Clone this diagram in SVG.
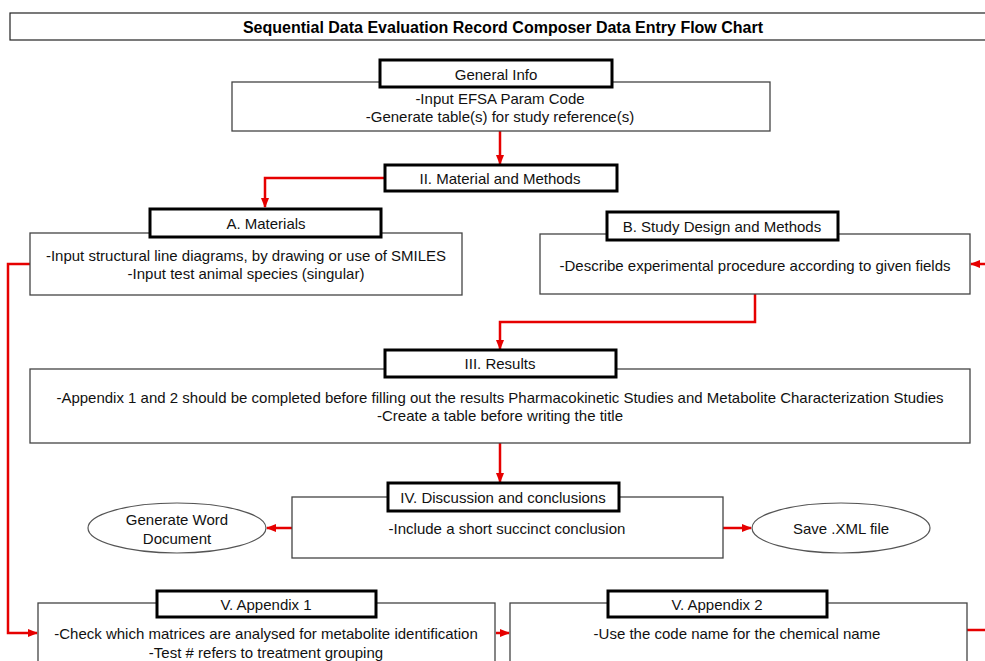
<svg xmlns="http://www.w3.org/2000/svg" width="985" height="661" viewBox="0 0 985 661">
<defs>
<marker id="ah" viewBox="0 0 10 10" refX="9" refY="5" markerWidth="4.2" markerHeight="4.2" orient="auto" markerUnits="strokeWidth">
<path d="M0,1 L10,5 L0,9 z" fill="#e60000"/>
</marker>
<style>
.body{fill:#fff;stroke:#444;stroke-width:1.3}
.head{fill:#fff;stroke:#000;stroke-width:3}
.ell{fill:#fff;stroke:#555;stroke-width:1.2}
.t{font-family:"Liberation Sans",Arial,sans-serif;font-size:15px;fill:#111;text-anchor:middle;dominant-baseline:central}
.title{font-family:"Liberation Sans",Arial,sans-serif;font-size:16px;font-weight:bold;fill:#000;text-anchor:middle;dominant-baseline:central}
.c{fill:none;stroke:#e60000;stroke-width:2.5;marker-end:url(#ah)}
.cn{fill:none;stroke:#e60000;stroke-width:2.5}
</style>
</defs>
<rect width="985" height="661" fill="#fff"/>
<g id="title">
<rect x="10" y="13" width="990" height="27" fill="#fff" stroke="#222" stroke-width="1.2"/>
<text class="title" x="503" y="27">Sequential Data Evaluation Record Composer Data Entry Flow Chart</text>
</g>
<g id="connectors">
<path class="c" d="M500,131 V164"/>
<path class="c" d="M385,178 H265 V207"/>
<path class="c" d="M30,264 H8 V633 H37"/>
<path class="c" d="M985,264 H971"/>
<path class="c" d="M755,294 V322 H500 V349"/>
<path class="c" d="M500,443 V482"/>
<path class="c" d="M292,528 H267"/>
<path class="c" d="M723,528 H751"/>
<path class="c" d="M496,633 H509"/>
<path class="cn" d="M967,630 H985"/>
</g>
<g id="general-info">
<rect class="body" x="232" y="82" width="538" height="49"/>
<rect class="head" x="380" y="60" width="232" height="27"/>
<text class="t" x="496" y="74">General Info</text>
<text class="t" x="500" y="98">-Input EFSA Param Code</text>
<text class="t" x="500" y="116">-Generate table(s) for study reference(s)</text>
</g>
<g id="material-methods">
<rect class="head" x="385" y="165" width="232" height="26"/>
<text class="t" x="500" y="178">II. Material and Methods</text>
</g>
<g id="materials">
<rect class="body" x="30" y="233" width="432" height="62"/>
<rect class="head" x="150" y="209" width="231" height="28"/>
<text class="t" x="266" y="223">A. Materials</text>
<text class="t" x="246" y="255">-Input structural line diagrams, by drawing or use of SMILES</text>
<text class="t" x="246" y="273">-Input test animal species (singular)</text>
</g>
<g id="study-design">
<rect class="body" x="540" y="234" width="430" height="60"/>
<rect class="head" x="607" y="212" width="231" height="28"/>
<text class="t" x="722" y="226">B. Study Design and Methods</text>
<text class="t" x="755" y="265">-Describe experimental procedure according to given fields</text>
</g>
<g id="results">
<rect class="body" x="30" y="369" width="940" height="74"/>
<rect class="head" x="385" y="350" width="231" height="27"/>
<text class="t" x="500" y="363">III. Results</text>
<text class="t" x="500" y="397">-Appendix 1 and 2 should be completed before filling out the results Pharmacokinetic Studies and Metabolite Characterization Studies</text>
<text class="t" x="500" y="415">-Create a table before writing the title</text>
</g>
<g id="discussion">
<rect class="body" x="292" y="497" width="431" height="61"/>
<rect class="head" x="388" y="483" width="231" height="28"/>
<text class="t" x="503" y="497">IV. Discussion and conclusions</text>
<text class="t" x="507" y="528">-Include a short succinct conclusion</text>
</g>
<g id="word-doc">
<ellipse class="ell" cx="177" cy="528" rx="89" ry="25"/>
<text class="t" x="177" y="519">Generate Word</text>
<text class="t" x="177" y="538">Document</text>
</g>
<g id="save-xml">
<ellipse class="ell" cx="841" cy="528" rx="89" ry="25"/>
<text class="t" x="841" y="528">Save .XML file</text>
</g>
<g id="appendix1">
<rect class="body" x="38" y="603" width="457" height="70"/>
<rect class="head" x="157" y="591" width="219" height="26"/>
<text class="t" x="266" y="604">V. Appendix 1</text>
<text class="t" x="266" y="633">-Check which matrices are analysed for metabolite identification</text>
<text class="t" x="266" y="652">-Test # refers to treatment grouping</text>
</g>
<g id="appendix2">
<rect class="body" x="510" y="603" width="457" height="70"/>
<rect class="head" x="608" y="591" width="219" height="26"/>
<text class="t" x="717" y="604">V. Appendix 2</text>
<text class="t" x="737" y="633">-Use the code name for the chemical name</text>
</g>
</svg>
